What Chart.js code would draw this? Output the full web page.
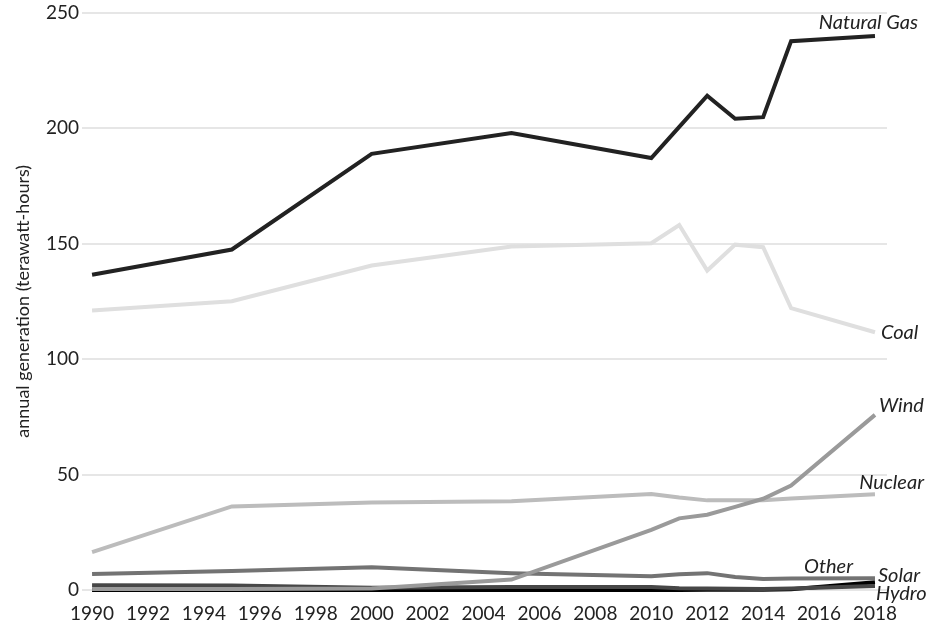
<!DOCTYPE html>
<html lang="en">
  <head>
    <meta charset="UTF-8" />
    <title>Annual generation</title>
    <style>
      html, body { margin: 0; padding: 0; background: #fff; }
      #wrap { width: 928px; height: 632px; }
    </style>
  </head>
  <body>
    <div id="wrap"><canvas id="chart" width="928" height="632"></canvas></div>

    <script src="https://cdn.jsdelivr.net/npm/chart.js"></script>

    <script>
      // data (terawatt-hours)
      const years = [1990, 1995, 2000, 2005, 2010, 2011, 2012, 2013, 2014, 2015, 2018];
      const naturalGas = [136.5, 147.4, 188.8, 197.8, 187, 200.5, 214, 204, 204.7, 237.6, 239.8];
      const coal = [121, 125, 140.5, 148.7, 150.1, 158, 138.3, 149.5, 148.4, 122, 111.6];
      const nuclear = [16.4, 36.2, 37.9, 38.4, 41.6, 40, 38.8, 38.8, 38.9, 39.6, 41.4];
      const wind = [0.4, 0.4, 0.6, 4.5, 26, 31, 32.6, 36, 39.5, 45.2, 75.8];
      const other = [6.9, 8.2, 9.9, 7.3, 6.0, 6.8, 7.3, 5.6, 4.8, 5.0, 5.1];
      const solar = [0, 0, 0, 0, 0, 0, 0.1, 0.1, 0.1, 0.3, 3.4];
      const hydro = [2.1, 1.9, 1.0, 1.3, 1.3, 0.8, 0.6, 0.5, 0.4, 0.6, 1.7];
      const tickYears = [1990, 1992, 1994, 1996, 1998, 2000, 2002, 2004, 2006, 2008, 2010, 2012, 2014, 2016, 2018];
      const yTicks = [0, 50, 100, 150, 200, 250];

      const series = [
        { name: "Natural Gas", values: naturalGas, color: "#222222", order: 1 },
        { name: "Coal", values: coal, color: "#dfdfdf", order: 6 },
        { name: "Wind", values: wind, color: "#9a9a9a", order: 2 },
        { name: "Nuclear", values: nuclear, color: "#bcbcbc", order: 5 },
        { name: "Other", values: other, color: "#737373", order: 4 },
        { name: "Solar", values: solar, color: "#000000", order: 7 },
        { name: "Hydro", values: hydro, color: "#474747", order: 3 },
      ];

      // where each end label sits relative to the last point
      const labelPlace = {
        "Natural Gas": { dx: 43, dy: -14, align: "right" },
        "Coal": { dx: 6, dy: 0, align: "left" },
        "Wind": { dx: 4, dy: -9, align: "left" },
        "Nuclear": { dx: 49, dy: -12, align: "right" },
        "Other": { dx: -22, dy: -12, align: "right" },
        "Solar": { dx: 3, dy: -7, align: "left" },
        "Hydro": { dx: 1, dy: 7, align: "left" },
      };

      const endLabels = {
        id: "endLabels",
        afterDatasetsDraw(chart) {
          const ctx = chart.ctx;
          ctx.save();
          ctx.font = "italic 20px Lato";
          ctx.fillStyle = "#222";
          ctx.textBaseline = "middle";
          chart.data.datasets.forEach((ds, i) => {
            const meta = chart.getDatasetMeta(i);
            const pt = meta.data[meta.data.length - 1];
            const p = labelPlace[ds.label];
            ctx.textAlign = p.align;
            ctx.fillText(ds.label, pt.x + p.dx, pt.y + p.dy);
          });
          ctx.restore();
        },
      };

      new Chart(document.getElementById("chart"), {
        type: "line",
        data: {
          datasets: series.map((s) => ({
            label: s.name,
            data: years.map((yr, i) => ({ x: yr, y: s.values[i] })),
            borderColor: s.color,
            borderWidth: 4,
            pointRadius: 0,
            tension: 0,
            order: s.order,
            clip: false,
            borderJoinStyle: "miter",
          })),
        },
        options: {
          responsive: false,
          animation: false,
          layout: { padding: { top: 2, right: 41, left: 0, bottom: 0 } },
          plugins: { legend: { display: false }, tooltip: { enabled: false } },
          scales: {
            x: {
              type: "linear",
              min: 1989.64,
              max: 2018.43,
              afterBuildTicks: (axis) => {
                axis.ticks = tickYears.map((v) => ({ value: v }));
              },
              afterFit: (axis) => {
                axis.height = 42;
              },
              grid: { display: false, drawTicks: false },
              border: { display: false },
              ticks: {
                autoSkip: false,
                maxRotation: 0,
                padding: 12,
                color: "#222",
                font: { family: "Lato", size: 19 },
                callback: (v) => String(v),
              },
            },
            y: {
              min: 0,
              max: 250,
              afterBuildTicks: (axis) => {
                axis.ticks = yTicks.map((v) => ({ value: v }));
              },
              afterFit: (axis) => {
                axis.width = 82;
              },
              grid: { color: "#e6e6e6", lineWidth: 2, drawTicks: false },
              border: { display: false },
              ticks: {
                padding: 3,
                color: "#222",
                font: { family: "Lato", size: 19, lineHeight: 1 },
              },
              title: {
                display: true,
                text: "annual generation (terawatt-hours)",
                color: "#222",
                font: { family: "Lato", size: 18 },
                padding: { top: 12, bottom: 0 },
              },
            },
          },
        },
        plugins: [endLabels],
      });
    </script>
  </body>
</html>
